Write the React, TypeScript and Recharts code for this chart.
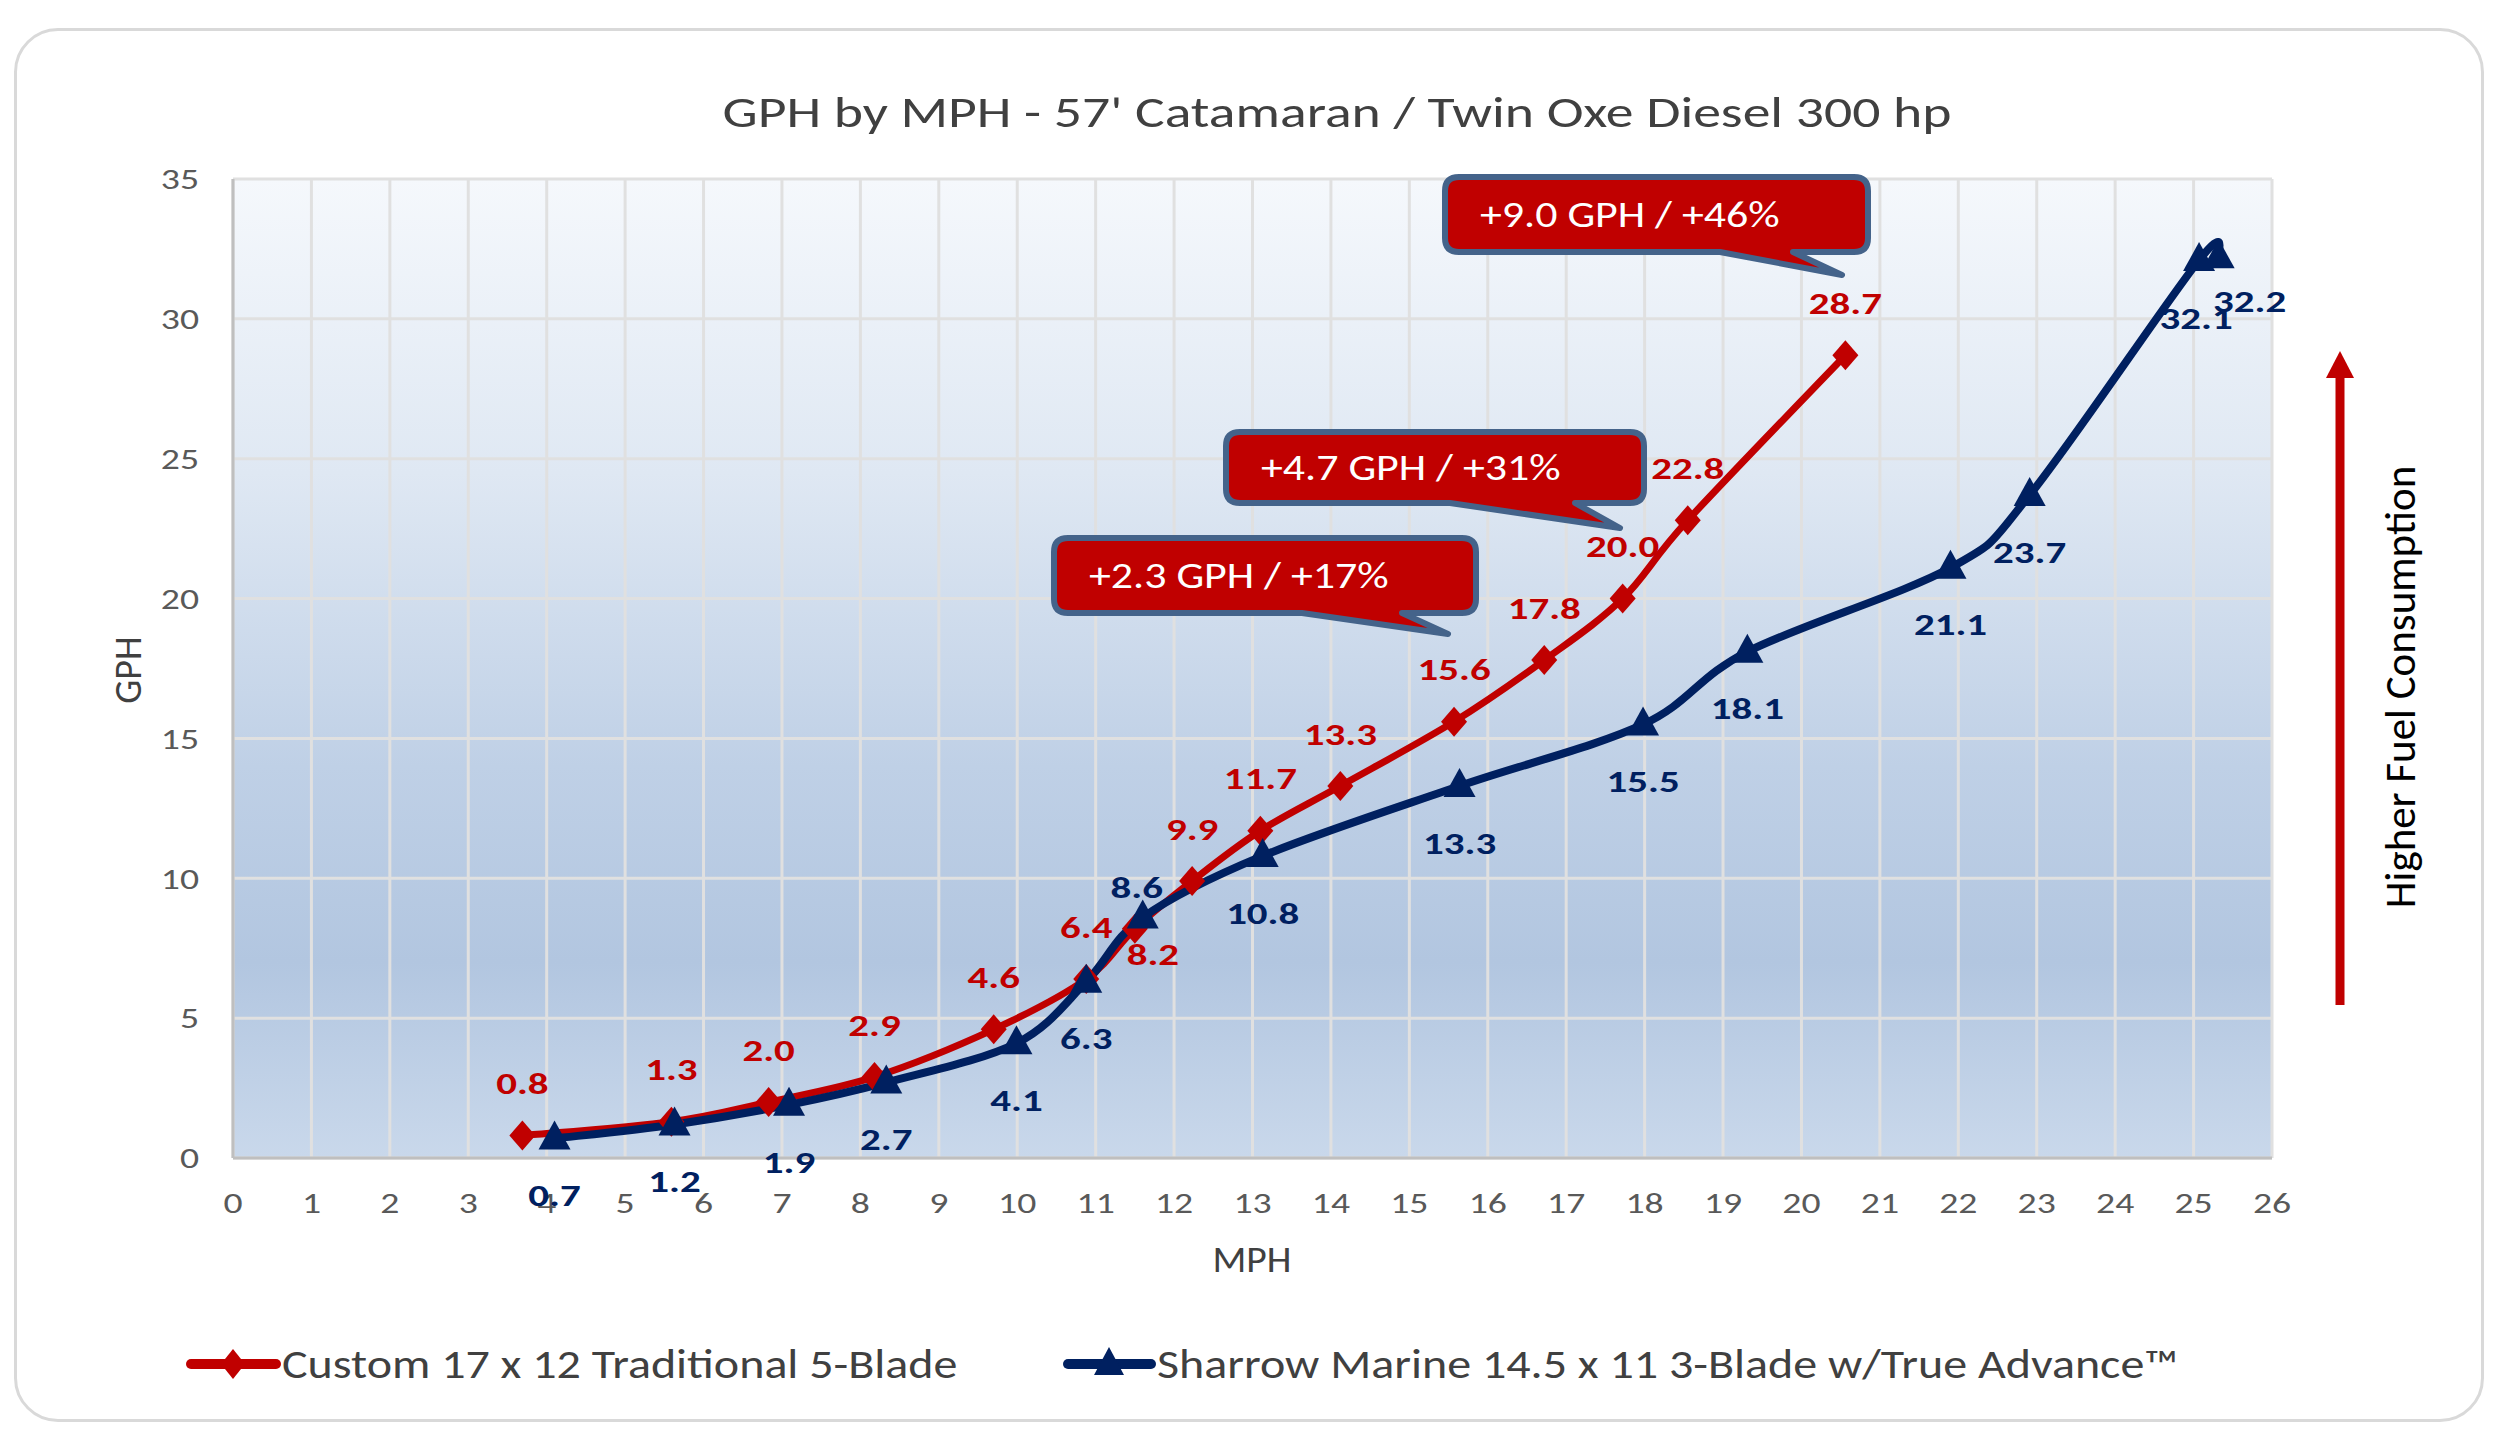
import React from 'react';
import { LineChart, Line, XAxis, YAxis, CartesianGrid, LabelList } from 'recharts';

// Custom 17 x 12 Traditional 5-Blade
const redMph = [3.69, 5.59, 6.83, 8.18, 9.7, 10.88, 11.5, 12.23, 13.1, 14.12, 15.57, 16.72, 17.72, 18.55, 20.56];
const redGph = [0.8, 1.3, 2.0, 2.9, 4.6, 6.4, 8.2, 9.9, 11.7, 13.3, 15.6, 17.8, 20.0, 22.8, 28.7];

// Sharrow Marine 14.5 x 11 3-Blade
const blueMph = [4.1, 5.63, 7.09, 8.33, 9.99, 10.88, 11.6, 13.13, 15.64, 17.98, 19.31, 21.9, 22.91, 25.07, 25.32];
const blueGph = [0.7, 1.2, 1.9, 2.7, 4.1, 6.3, 8.6, 10.8, 13.3, 15.5, 18.1, 21.1, 23.7, 32.1, 32.2];

const xTicks = [0, 1, 2, 3, 4, 5, 6, 7, 8, 9, 10, 11, 12, 13, 14, 15, 16, 17, 18, 19, 20, 21, 22, 23, 24, 25, 26];
const yTicks = [0, 5, 10, 15, 20, 25, 30, 35];

const callouts = ['+9.0 GPH / +46%', '+4.7 GPH / +31%', '+2.3 GPH / +17%'];

const RED = '#c00000';
const NAVY = '#002060';
const FONT = "Carlito, Lato, 'Open Sans', sans-serif";

const redData = redMph.map((x, i) => ({ mph: x, gph: redGph[i] }));
const blueData = blueMph.map((x, i) => ({ mph: x, gph: blueGph[i] }));

// Excel-like smoothed line (Catmull-Rom -> bezier)
const excelCurve = (context: any) => {
  let pts: number[][] = [];
  return {
    areaStart() {},
    areaEnd() {},
    lineStart() {
      pts = [];
    },
    point(x: number, y: number) {
      pts.push([+x, +y]);
    },
    lineEnd() {
      const n = pts.length;
      if (!n) return;
      context.moveTo(pts[0][0], pts[0][1]);
      for (let i = 0; i < n - 1; i++) {
        const p0 = pts[Math.max(i - 1, 0)];
        const p1 = pts[i];
        const p2 = pts[i + 1];
        const p3 = pts[Math.min(i + 2, n - 1)];
        context.bezierCurveTo(
          p1[0] + (p2[0] - p0[0]) / 6,
          p1[1] + (p2[1] - p0[1]) / 6,
          p2[0] - (p3[0] - p1[0]) / 6,
          p2[1] - (p3[1] - p1[1]) / 6,
          p2[0],
          p2[1]
        );
      }
    },
  };
};

// text that is a bit wider than the font draws it (the chart's font is wide)
const WideText = ({ x, y, sx, anchor = 'middle', children, ...rest }: any) => (
  <text
    transform={`translate(${x},${y}) scale(${sx},1)`}
    x={0}
    y={0}
    textAnchor={anchor}
    dominantBaseline="central"
    fontFamily={FONT}
    {...rest}
  >
    {children}
  </text>
);

const XTick = (props: any) => {
  const { x, y, payload } = props;
  return (
    <text transform={`translate(${x},${y}) scale(1.3,1)`} textAnchor="middle" dy="0.71em" fill="#595959" fontSize={29} fontFamily={FONT}>
      {payload.value}
    </text>
  );
};

const YTick = (props: any) => {
  const { x, y, payload } = props;
  return (
    <text transform={`translate(${x},${y}) scale(1.3,1)`} textAnchor="end" dy="0.355em" fill="#595959" fontSize={29} fontFamily={FONT}>
      {payload.value}
    </text>
  );
};

const Diamond = (props: any) => {
  const { cx, cy, index } = props;
  if (cx == null || cy == null) return null;
  return <path key={`d-${index}`} d={`M${cx},${cy - 15}L${cx + 13},${cy}L${cx},${cy + 15}L${cx - 13},${cy}Z`} fill={RED} />;
};

const Triangle = (props: any) => {
  const { cx, cy, index } = props;
  if (cx == null || cy == null) return null;
  return <path key={`t-${index}`} d={`M${cx},${cy - 18}L${cx + 16},${cy + 11}L${cx - 16},${cy + 11}Z`} fill={NAVY} />;
};

// label offsets (px) for the few labels Excel moved
const redLabelShift: Record<number, [number, number]> = { 6: [18, 26] };
const blueLabelShift: Record<number, [number, number]> = { 6: [-6, -30], 13: [-3, 58], 14: [31, 44] };

const makeLabel = (color: string, defDy: number, shifts: Record<number, [number, number]>) => (props: any) => {
  const { value, index } = props;
  const x = props.x ?? props.viewBox?.x;
  const y = props.y ?? props.viewBox?.y;
  if (x == null || y == null) return null;
  const [dx, dy] = shifts[index] ?? [0, defDy];
  return (
    <WideText key={`l-${color}-${index}`} x={x + dx} y={y + dy} sx={1.32} fill={color} fontWeight="bold" fontSize={31}>
      {Number(value).toFixed(1)}
    </WideText>
  );
};

const Callout = ({ box, tail, text }: { box: number[]; tail: number[]; text: string }) => {
  const [x1, y1, x2, y2] = box;
  const [b1, b2, tx, ty] = tail;
  const r = 14;
  const d = `M${x1 + r},${y1} L${x2 - r},${y1} Q${x2},${y1} ${x2},${y1 + r} L${x2},${y2 - r} Q${x2},${y2} ${x2 - r},${y2}
    L${b2},${y2} L${tx},${ty} L${b1},${y2} L${x1 + r},${y2} Q${x1},${y2} ${x1},${y2 - r} L${x1},${y1 + r} Q${x1},${y1} ${x1 + r},${y1} Z`;
  return (
    <g>
      <path d={d} fill={RED} stroke="#44638a" strokeWidth={6} strokeLinejoin="round" />
      <WideText x={x1 + 35} y={(y1 + y2) / 2} sx={1.22} anchor="start" fill="#ffffff" fontSize={36}>
        {text}
      </WideText>
    </g>
  );
};

export default function App() {
  return (
    <div style={{ position: 'relative', width: 2500, height: 1439, background: '#ffffff', overflow: 'hidden' }}>
      <style>{`body{margin:0}`}</style>
      <div
        style={{
          position: 'absolute',
          left: 14,
          top: 28,
          width: 2470,
          height: 1394,
          border: '3px solid #d9d9d9',
          borderRadius: 44,
          boxSizing: 'border-box',
        }}
      />
      <div style={{ position: 'absolute', left: 0, top: 0 }}>
        <LineChart width={2500} height={1439} margin={{ top: 179, right: 228, bottom: 191, left: 133 }}>
          <defs>
            <linearGradient id="plotBg" x1="0" y1="0" x2="0" y2="1">
              <stop offset="0%" stopColor="#f5f8fc" />
              <stop offset="30%" stopColor="#dfe8f3" />
              <stop offset="60%" stopColor="#bfd0e6" />
              <stop offset="80%" stopColor="#b2c6e0" />
              <stop offset="100%" stopColor="#c9d8eb" />
            </linearGradient>
          </defs>
          <CartesianGrid stroke="#e0e0e0" strokeWidth={3} fill="url(#plotBg)" fillOpacity={1} />
          <XAxis
            type="number"
            dataKey="mph"
            domain={[0, 26]}
            ticks={xTicks}
            interval={0}
            height={90}
            tickLine={false}
            tickMargin={28}
            axisLine={{ stroke: '#bfbfbf', strokeWidth: 3 }}
            tick={<XTick />}
            allowDataOverflow
          />
          <YAxis
            type="number"
            domain={[0, 35]}
            ticks={yTicks}
            interval={0}
            width={100}
            tickLine={false}
            tickMargin={28}
            axisLine={{ stroke: '#bfbfbf', strokeWidth: 3 }}
            tick={<YTick />}
          />
          <Line
            data={redData}
            dataKey="gph"
            type={excelCurve as any}
            stroke={RED}
            strokeWidth={7}
            dot={Diamond}
            activeDot={false}
            isAnimationActive={false}
          >
            <LabelList dataKey="gph" content={makeLabel(RED, -52, redLabelShift)} />
          </Line>
          <Line
            data={blueData}
            dataKey="gph"
            type={excelCurve as any}
            stroke={NAVY}
            strokeWidth={8}
            dot={Triangle}
            activeDot={false}
            isAnimationActive={false}
          >
            <LabelList dataKey="gph" content={makeLabel(NAVY, 57, blueLabelShift)} />
          </Line>
        </LineChart>
      </div>
      <svg width={2500} height={1439} style={{ position: 'absolute', left: 0, top: 0, pointerEvents: 'none' }}>
        <WideText x={1337} y={112} sx={1.295} fill="#404040" fontSize={43}>
          GPH by MPH - 57' Catamaran / Twin Oxe Diesel 300 hp
        </WideText>
        <WideText x={1252} y={1260} sx={1.1} fill="#404040" fontSize={36}>
          MPH
        </WideText>
        <text
          x={128}
          y={670}
          textAnchor="middle"
          dominantBaseline="central"
          fill="#404040"
          fontFamily={FONT}
          fontSize={38}
          transform="rotate(-90 128 670)"
        >
          GPH
        </text>

        <Callout box={[1445, 177, 1868, 252]} tail={[1720, 1793, 1842, 275]} text={callouts[0]} />
        <Callout box={[1226, 432, 1644, 503]} tail={[1450, 1575, 1620, 528]} text={callouts[1]} />
        <Callout box={[1054, 538, 1476, 613]} tail={[1302, 1402, 1448, 634]} text={callouts[2]} />

        <line x1={2340} y1={1005} x2={2340} y2={374} stroke={RED} strokeWidth={9} />
        <path d="M2326,378 L2354,378 L2340,351 Z" fill={RED} />
        <text
          x={2400}
          y={687}
          textAnchor="middle"
          dominantBaseline="central"
          fill="#000000"
          fontFamily={FONT}
          fontSize={43}
          transform="rotate(-90 2400 687)"
        >
          Higher Fuel Consumption
        </text>

        <line x1={191} y1={1364} x2={276} y2={1364} stroke={RED} strokeWidth={10} strokeLinecap="round" />
        <path d="M233,1349 L245,1364 L233,1379 L221,1364 Z" fill={RED} />
        <WideText x={282} y={1364} sx={1.2} anchor="start" fill="#404040" fontSize={40}>
          Custom 17 x 12 Traditional 5-Blade
        </WideText>
        <line x1={1068} y1={1364} x2={1151} y2={1364} stroke={NAVY} strokeWidth={10} strokeLinecap="round" />
        <path d="M1109,1347 L1124,1375 L1094,1375 Z" fill={NAVY} />
        <WideText x={1157} y={1364} sx={1.2} anchor="start" fill="#404040" fontSize={40}>
          Sharrow Marine 14.5 x 11 3-Blade w/True Advance™
        </WideText>
      </svg>
    </div>
  );
}
